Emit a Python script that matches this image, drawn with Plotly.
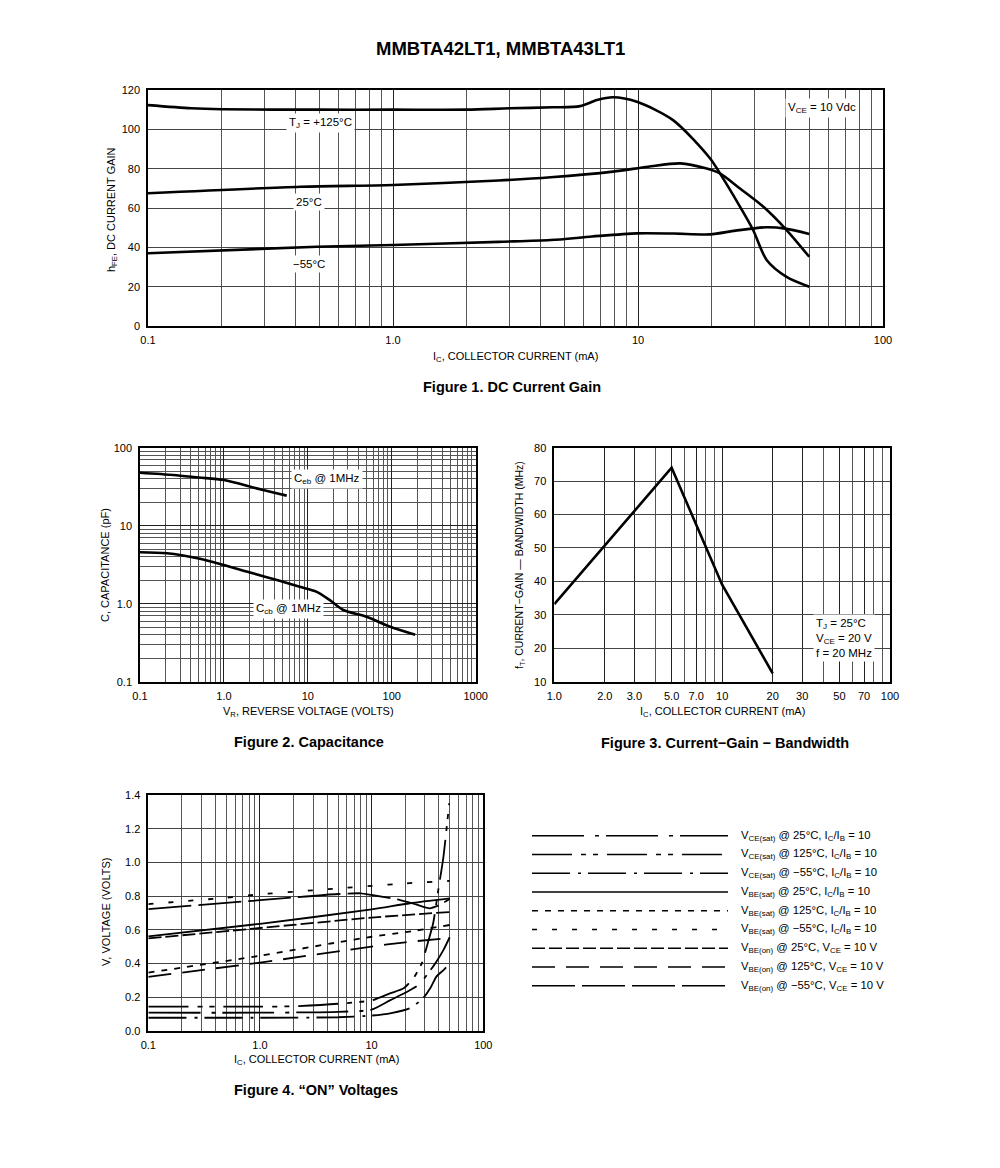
import plotly.graph_objects as go

# ---------------- Figure 1: DC current gain ----------------
ic_125 = [0.1, 0.15, 0.2, 0.5, 1.0, 2.0, 3.0, 4.5, 5.8, 6.8, 7.9, 9.9, 13.9, 19.7, 21.6, 26.1, 29.5, 33.5, 40.4, 50]
hfe_125 = [112.3, 110.7, 110.2, 110, 110, 110, 110.7, 111.2, 111.8, 114.9, 116.3, 114, 104.7, 85.2, 77.6, 60.6, 48.8, 33.6, 25, 20]

ic_25 = [0.1, 0.42, 1.0, 2.7, 4.4, 7.9, 11, 14.9, 18.9, 21.6, 26, 32.5, 40.4, 50]
hfe_25 = [67.5, 70.8, 71.7, 74, 75.6, 78.5, 81, 82.7, 80.2, 77.6, 70, 60.6, 48.8, 35.2]

ic_m55 = [0.1, 0.49, 1.0, 2.7, 4.4, 6.5, 9.9, 14, 19.7, 25, 33.5, 40, 50]
hfe_m55 = [37, 40.3, 41.2, 42.8, 43.7, 45.5, 47.1, 47, 46.6, 48.5, 50.2, 49.5, 46.8]

# ---------------- Figure 2: capacitance ----------------
vr_ceb = [0.1, 0.25, 0.5, 1.0, 2.45, 4.0, 5.6]
c_ceb = [47.8, 44.7, 41.5, 38.5, 30.1, 26.5, 24.3]

vr_ccb = [0.1, 0.21, 0.5, 1.0, 2.0, 4.6, 8, 12.6, 18.3, 26.5, 50, 94, 190]
c_ccb = [4.56, 4.43, 3.8, 3.13, 2.53, 1.97, 1.65, 1.43, 1.11, 0.83, 0.68, 0.51, 0.40]

# ---------------- Figure 3: current-gain bandwidth ----------------
ic_ft = [1.0, 5.0, 10, 20]
ft = [33.2, 74, 39, 12.5]

# ---------------- Figure 4: "ON" voltages ----------------
ic_vce25 = [0.1, 1, 5, 10, 14.6, 20, 26.2, 32, 38, 44, 50]
v_vce25 = [0.107, 0.107, 0.112, 0.125, 0.18, 0.225, 0.271, 0.34, 0.41, 0.48, 0.555]

ic_vce125 = [0.1, 1, 2, 5, 10, 14.6, 19.2, 23.6, 28.1, 31.8, 35.6, 39.6, 43.9, 49.5]
v_vce125 = [0.143, 0.143, 0.145, 0.16, 0.18, 0.222, 0.25, 0.31, 0.40, 0.52, 0.64, 0.84, 1.03, 1.35]

ic_vcem55 = [0.1, 1, 5, 10, 15, 21.9, 28.8, 34, 38, 44, 50]
v_vcem55 = [0.077, 0.077, 0.08, 0.09, 0.105, 0.133, 0.192, 0.26, 0.321, 0.36, 0.40]

ic_vbesat25 = [0.1, 1, 10, 22, 50]
v_vbesat25 = [0.56, 0.635, 0.72, 0.757, 0.786]

ic_vbesat125 = [0.1, 1, 5, 10, 20, 50]
v_vbesat125 = [0.345, 0.445, 0.525, 0.558, 0.585, 0.628]

ic_vbesatm55 = [0.1, 0.5, 1, 5, 10, 20, 50]
v_vbesatm55 = [0.752, 0.79, 0.81, 0.845, 0.86, 0.875, 0.89]

ic_vbeon25 = [0.1, 1, 10, 50]
v_vbeon25 = [0.548, 0.61, 0.672, 0.705]

ic_vbeon125 = [0.1, 1, 10, 20, 46]
v_vbeon125 = [0.32, 0.405, 0.50, 0.525, 0.549]

ic_vbeonm55 = [0.1, 1, 5, 8, 10, 18, 25, 33, 40, 50]
v_vbeonm55 = [0.722, 0.775, 0.812, 0.816, 0.806, 0.776, 0.75, 0.727, 0.745, 0.782]

fig4_labels = [
    "V<sub>CE(sat)</sub> @ 25°C, I<sub>C</sub>/I<sub>B</sub> = 10",
    "V<sub>CE(sat)</sub> @ 125°C, I<sub>C</sub>/I<sub>B</sub> = 10",
    "V<sub>CE(sat)</sub> @ −55°C, I<sub>C</sub>/I<sub>B</sub> = 10",
    "V<sub>BE(sat)</sub> @ 25°C, I<sub>C</sub>/I<sub>B</sub> = 10",
    "V<sub>BE(sat)</sub> @ 125°C, I<sub>C</sub>/I<sub>B</sub> = 10",
    "V<sub>BE(sat)</sub> @ −55°C, I<sub>C</sub>/I<sub>B</sub> = 10",
    "V<sub>BE(on)</sub> @ 25°C, V<sub>CE</sub> = 10 V",
    "V<sub>BE(on)</sub> @ 125°C, V<sub>CE</sub> = 10 V",
    "V<sub>BE(on)</sub> @ −55°C, V<sub>CE</sub> = 10 V",
]
fig4_x = [ic_vce25, ic_vce125, ic_vcem55, ic_vbesat25, ic_vbesat125, ic_vbesatm55, ic_vbeon25, ic_vbeon125, ic_vbeonm55]
fig4_y = [v_vce25, v_vce125, v_vcem55, v_vbesat25, v_vbesat125, v_vbesatm55, v_vbeon25, v_vbeon125, v_vbeonm55]
fig4_dash = ["52px,11px,4px,7px", "40px,9px,5px,7px,5px,9px", "38px,8px,3px,7px", "solid",
             "6px,7px", "5px,15px", "13px,4px", "23px,11px", "43px,7px"]

NARROW = "Liberation Sans Narrow, Arial Narrow, Liberation Sans, Arial, sans-serif"
BOLD = "Liberation Sans, Arial, sans-serif"
W, H = 1000, 1168
OFF = 8  # the page body adds an 8px margin around the plot


def px(x, y):
    # screen pixel position -> paper coordinates
    return (x - OFF) / W, 1 - (y - OFF) / H


def xdom(x0, x1):
    return [(x0 - OFF) / W, (x1 - OFF) / W]


def ydom(y0, y1):
    return [1 - (y1 - OFF) / H, 1 - (y0 - OFF) / H]


def log_minor(lo, hi):
    return [m * 10 ** e for e in range(lo, hi) for m in range(2, 10)]


def log_axis(domain, lo, hi, tickvals, ticktext, anchor, minor_vals, standoff=3):
    return dict(
        type="log", domain=domain, range=[lo, hi], anchor=anchor, automargin=False,
        tickvals=tickvals, ticktext=ticktext, ticks="", ticklabelstandoff=standoff,
        showgrid=True, gridcolor="#222", gridwidth=1,
        minor=dict(tickvals=minor_vals, showgrid=True, gridcolor="#555", gridwidth=1, ticks=""),
        showline=True, linecolor="black", linewidth=1.5, mirror=True,
        tickfont=dict(family=NARROW, size=11, color="black"), zeroline=False,
    )


def lin_axis(domain, rng, dtick, anchor, tickformat=None):
    d = dict(
        domain=domain, range=rng, dtick=dtick, anchor=anchor, automargin=False,
        ticks="", ticklabelstandoff=4, showgrid=True, gridcolor="#444", gridwidth=1,
        showline=True, linecolor="black", linewidth=1.5, mirror=True,
        tickfont=dict(family=NARROW, size=11, color="black"), zeroline=False,
    )
    if tickformat:
        d["tickformat"] = tickformat
    return d


fig = go.Figure()

curve = dict(color="black", width=2.6, shape="spline", smoothing=0.8)
for xs, ys in [(ic_125, hfe_125), (ic_25, hfe_25), (ic_m55, hfe_m55)]:
    fig.add_trace(go.Scatter(x=xs, y=ys, mode="lines", line=curve, xaxis="x", yaxis="y", showlegend=False))

for xs, ys in [(vr_ceb, c_ceb), (vr_ccb, c_ccb)]:
    fig.add_trace(go.Scatter(x=xs, y=ys, mode="lines", line=curve, xaxis="x2", yaxis="y2", showlegend=False))

fig.add_trace(go.Scatter(x=ic_ft, y=ft, mode="lines", line=dict(color="black", width=2.6),
                         xaxis="x3", yaxis="y3", showlegend=False))

for xs, ys, dash in zip(fig4_x, fig4_y, fig4_dash):
    fig.add_trace(go.Scatter(x=xs, y=ys, mode="lines",
                             line=dict(color="black", width=1.8, dash=dash, shape="spline", smoothing=0.6),
                             xaxis="x4", yaxis="y4", showlegend=False))

# legend of figure 4 drawn as long sample lines with text
shapes = []
annotations = []
for i, (label, dash) in enumerate(zip(fig4_labels, fig4_dash)):
    yy = 835.7 + i * 18.75
    xa, ya = px(532, yy)
    xb, _ = px(728, yy)
    shapes.append(dict(type="line", xref="paper", yref="paper", x0=xa, x1=xb, y0=ya, y1=ya,
                       line=dict(color="black", width=1.5, dash=dash)))
    xt, yt = px(739, yy)
    annotations.append(dict(x=xt, y=yt, xref="paper", yref="paper", text=label, showarrow=False,
                            xanchor="left", yanchor="middle", font=dict(family=NARROW, size=11.3, color="black")))


def note(x, y, text, size=11, family=NARROW, bg=None, angle=0, xanchor="center", align="center"):
    xp, yp = px(x, y)
    a = dict(x=xp, y=yp, xref="paper", yref="paper", text=text, showarrow=False, xanchor=xanchor,
             yanchor="middle", textangle=angle, align=align, font=dict(family=family, size=size, color="black"))
    if bg:
        a["bgcolor"] = bg
        a["borderpad"] = 2
    annotations.append(a)


note(500, 48, "<b>MMBTA42LT1, MMBTA43LT1</b>", size=18.5, family=BOLD)

# figure 1 texts
note(320, 123, "T<sub>J</sub> = +125°C", size=11.5, bg="white")
note(309, 202, "25°C", size=11.5, bg="white")
note(309, 264, "−55°C", size=11.5, bg="white")
note(822, 108, "V<sub>CE</sub> = 10 Vdc", size=11.5, bg="white")
note(515, 357, "I<sub>C</sub>, COLLECTOR CURRENT (mA)", size=11)
note(112, 210, "h<sub>FE</sub>, DC CURRENT GAIN", size=11, angle=-90)
note(512, 387, "<b>Figure 1. DC Current Gain</b>", size=14.5, family=BOLD)

# figure 2 texts
note(327, 479, "C<sub>eb</sub> @ 1MHz", size=11.5, bg="white")
note(288, 609, "C<sub>cb</sub> @ 1MHz", size=11.5, bg="white")
note(308, 712, "V<sub>R</sub>, REVERSE VOLTAGE (VOLTS)", size=11)
note(105, 565, "C, CAPACITANCE (pF)", size=11, angle=-90)
note(309, 742, "<b>Figure 2. Capacitance</b>", size=14.5, family=BOLD)

# figure 3 texts
note(813, 638, "T<sub>J</sub> = 25°C<br>V<sub>CE</sub> = 20 V<br>f = 20 MHz", size=11.5, bg="white",
     xanchor="left", align="left")
note(722, 712, "I<sub>C</sub>, COLLECTOR CURRENT (mA)", size=11)
note(520, 565, "f<sub>T</sub>, CURRENT−GAIN — BANDWIDTH (MHz)", size=10.5, angle=-90)
note(725, 743, "<b>Figure 3. Current−Gain − Bandwidth</b>", size=14.5, family=BOLD)

# figure 4 texts
note(316, 1060, "I<sub>C</sub>, COLLECTOR CURRENT (mA)", size=11)
note(106, 912, "V, VOLTAGE (VOLTS)", size=11, angle=-90)
note(316, 1090, "<b>Figure 4. “ON” Voltages</b>", size=14.5, family=BOLD)

fig.update_layout(
    width=W, height=H, margin=dict(l=0, r=0, t=0, b=0, autoexpand=False),
    paper_bgcolor="white", plot_bgcolor="white", showlegend=False,
    xaxis=log_axis(xdom(148, 883), -1, 2, [0.1, 1, 10, 100], ["0.1", "1.0", "10", "100"], "y", log_minor(-1, 2)),
    yaxis=lin_axis(ydom(90, 326), [0, 120], 20, "x"),
    xaxis2=log_axis(xdom(140, 475.7), -1, 3, [0.1, 1, 10, 100, 1000], ["0.1", "1.0", "10", "100", "1000"], "y2",
                    log_minor(-1, 3)),
    yaxis2=log_axis(ydom(447.7, 681.7), -1, 2, [0.1, 1, 10, 100], ["0.1", "1.0", "10", "100"], "x2",
                    log_minor(-1, 2), standoff=4),
    xaxis3=log_axis(xdom(554.3, 890), 0, 2, [1, 2, 3, 5, 7, 10, 20, 30, 50, 70, 100],
                    ["1.0", "2.0", "3.0", "5.0", "7.0", "10", "20", "30", "50", "70", "100"], "y3",
                    log_minor(0, 2)),
    yaxis3=lin_axis(ydom(447.7, 681.7), [10, 80], 10, "x3"),
    xaxis4=log_axis(xdom(148.3, 483.3), -1, 2, [0.1, 1, 10, 100], ["0.1", "1.0", "10", "100"], "y4",
                    log_minor(-1, 2)),
    yaxis4=lin_axis(ydom(795, 1030.7), [0, 1.4], 0.2, "x4", tickformat=".1f"),
    shapes=shapes,
    annotations=annotations,
)

fig.write_html("out.html")
